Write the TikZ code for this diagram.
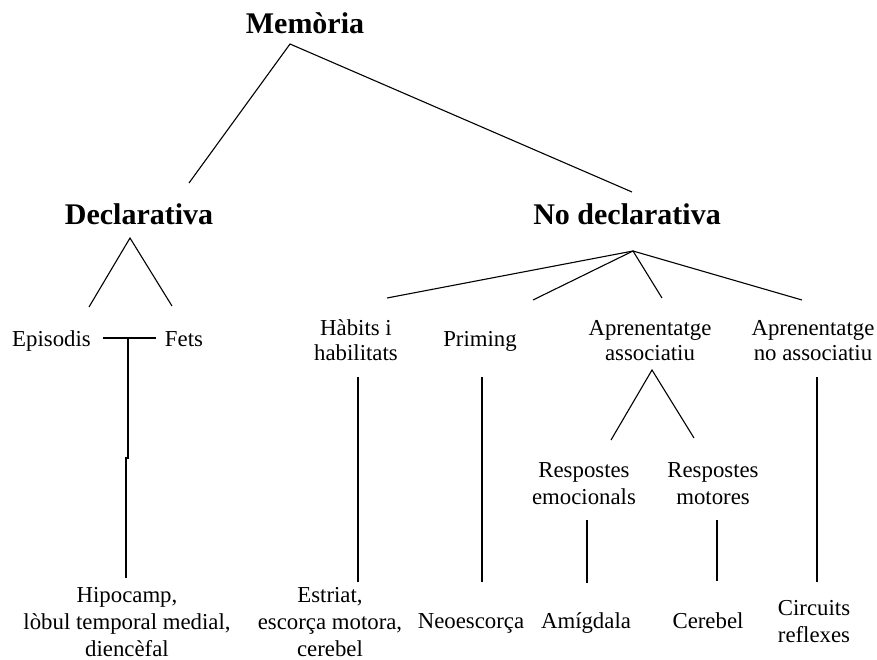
\documentclass[tikz,border=0pt]{standalone}
\usepackage{fontspec}
\setmainfont{Liberation Serif}
\begin{document}
\begin{tikzpicture}[x=1pt,y=-1pt,
  head/.style={font=\fontsize{30}{34}\selectfont\bfseries, inner sep=0pt, anchor=base},
  txt/.style={font=\fontsize{22.8}{27.2}\selectfont, inner sep=0pt, anchor=base},
  txtb/.style={font=\fontsize{22.8}{25.6}\selectfont, inner sep=0pt, anchor=base},
  link/.style={line width=1.1pt, black}]
\useasboundingbox (0,0) rectangle (877,660);
\newcommand{\lines}[1]{\begin{tabular}[t]{@{}c@{}}#1\end{tabular}}
% headings
\node[head] (mem) at (305,34) {Memòria};
\node[head] (decl) at (139,225) {Declarativa};
\node[head] (nodecl) at (627,225) {No declarativa};
% second level
\node[txt] (epi) at (51.5,346) {Episodis};
\node[txt] (fets) at (184,346) {Fets};
\node[txtb] (hab) at (356,335) {\lines{Hàbits i\\habilitats}};
\node[txt] (prim) at (480,346) {Priming};
\node[txtb] (apa) at (650,335) {\lines{Aprenentatge\\associatiu}};
\node[txtb] (apn) at (813,335) {\lines{Aprenentatge\\no associatiu}};
% third level
\node[txt] (remo) at (584,477) {\lines{Respostes\\emocionals}};
\node[txt] (rmot) at (713,477) {\lines{Respostes\\motores}};
% bottom
\node[txt] (hip) at (127,602) {\lines{Hipocamp,\\lòbul temporal medial,\\diencèfal}};
\node[txt] (est) at (330,602) {\lines{Estriat,\\escorça motora,\\cerebel}};
\node[txt] (neo) at (471,628) {Neoescorça};
\node[txt] (amig) at (586,628) {Amígdala};
\node[txt] (cereb) at (708,628) {Cerebel};
\node[txt] (circ) at (814,615) {\lines{Circuits\\reflexes}};
% connector points
\coordinate (memA) at (290,44);
\coordinate (memL) at (189,183);
\coordinate (memR) at (632,192);
\coordinate (decA) at (130,238);
\coordinate (decL) at (89,307);
\coordinate (decR) at (172,306);
\coordinate (ndA) at (633,251);
\coordinate (ndHab) at (387,298);
\coordinate (ndPrim) at (533,300);
\coordinate (ndApa) at (662,298);
\coordinate (ndApn) at (802,300);
\coordinate (efL) at (103,338);
\coordinate (efR) at (156,338);
\coordinate (efT) at (128,338);
\coordinate (efM1) at (128,458.5);
\coordinate (efM2) at (126,456.5);
\coordinate (efB) at (126,578);
\coordinate (habT) at (358,377);
\coordinate (habB) at (358,582);
\coordinate (primT) at (482,377);
\coordinate (primB) at (482,582);
\coordinate (circT) at (817,377);
\coordinate (circB) at (817,582);
\coordinate (apaA) at (652,370);
\coordinate (apaL) at (611,440);
\coordinate (apaR) at (694,438);
\coordinate (emoT) at (587,520);
\coordinate (emoB) at (587,583);
\coordinate (motT) at (717,520);
\coordinate (motB) at (717,581);
% connectors
\draw[link] (memL) -- (memA) -- (memR);
\draw[link] (decL) -- (decA) -- (decR);
\draw[link] (ndHab) -- (ndA) -- (ndApn);
\draw[link] (ndPrim) -- (ndA) -- (ndApa);
\draw[link] (efL) -- (efR);
\draw[link] (efT) -- (efM1);
\draw[link] (efM2) -- (efB);
\draw[link] (habT) -- (habB);
\draw[link] (primT) -- (primB);
\draw[link] (circT) -- (circB);
\draw[link] (apaL) -- (apaA) -- (apaR);
\draw[link] (emoT) -- (emoB);
\draw[link] (motT) -- (motB);
\end{tikzpicture}
\end{document}
